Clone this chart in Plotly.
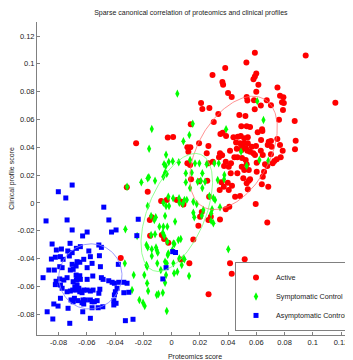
import numpy as np
import plotly.graph_objects as go

# ---------------- data ----------------
active_x = [0.059, 0.095, 0.116, 0.053, 0.038, 0.029, 0.060, 0.059, 0.058, 0.036, 0.0365, 0.0615, 0.075, 0.060,
            0.040, 0.0426, 0.0532, 0.0537, 0.0768, 0.0792, 0.0782, 0.0795, 0.0584, 0.0674, 0.0209, 0.0218, 0.0268,
            0.0632, 0.0704, 0.0589, 0.0789, 0.0331, 0.048, 0.0523, 0.0761, 0.0872, 0.0299, 0.0136, 0.0494, 0.0532,
            0.0556, 0.0641, 0.061, 0.0643, 0.0346, 0.0362, 0.0386, 0.0438, 0.0469, 0.049, 0.0515, 0.054, -0.0027,
            0.0011, 0.0749, 0.0879, 0.0874, 0.0634, 0.0688, 0.0704, 0.0681, 0.0709, 0.0768, 0.0787, 0.0773, 0.0598,
            0.0568, 0.0556, 0.0579, 0.0591, 0.0632, 0.0646, 0.0457, 0.0485, 0.0513, 0.054, 0.0499, 0.0527, -0.0251,
            0.0195, 0.0112, 0.0133, 0.0119, 0.0261, 0.0343, 0.0358, 0.0336, 0.0414, 0.0462, 0.0497, 0.0537, 0.0249,
            0.0445, 0.0466, 0.0499, 0.0525, 0.0704, 0.0745, 0.0728, 0.0716, 0.0662, 0.0678, 0.0603, 0.0261, 0.0292,
            0.0112, 0.0131, 0.0384, 0.0421, 0.0405, 0.0372, 0.0532, 0.0497, 0.0515, 0.0547, 0.0603, 0.0655, 0.0646,
            0.0419, 0.0466, 0.0508, 0.0547, 0.0532, 0.0556, 0.0639, 0.0685, 0.0353, 0.0398, 0.037, 0.0428, 0.0197,
            0.0253, 0.0138, -0.0317, -0.0169, 0.0341, 0.0405, 0.054, 0.045, 0.0485, 0.0266, -0.0074, -0.0034, 0.0037,
            0.0072, 0.0084, 0.0596, 0.0384, 0.0409, 0.0214, 0.0343, -0.014, -0.0154, 0.0202, 0.0261, 0.0278, 0.0678,
            0.019, -0.0152, -0.0069, -0.0053, 0.0154, -0.0023, -0.036, 0.0064, 0.0126, 0.0414, 0.0518, 0.0426, 0.0262]
active_y = [0.108, 0.106, 0.072, 0.101, 0.097, 0.092, 0.093, 0.091, 0.089, 0.087, 0.085, 0.085, 0.083, 0.080,
            0.079, 0.0762, 0.0762, 0.0736, 0.0771, 0.076, 0.0724, 0.0719, 0.0738, 0.0738, 0.0719, 0.0676, 0.0683,
            0.070, 0.0702, 0.0674, 0.0669, 0.064, 0.0633, 0.0626, 0.0599, 0.059, 0.0582, 0.0566, 0.0551, 0.0551,
            0.0546, 0.053, 0.0508, 0.0518, 0.0496, 0.0505, 0.0482, 0.0472, 0.0477, 0.0482, 0.0465, 0.0472, 0.047,
            0.0475, 0.046, 0.0448, 0.0386, 0.0453, 0.0441, 0.0446, 0.0417, 0.0405, 0.0417, 0.0376, 0.0329, 0.041,
            0.0405, 0.0369, 0.0357, 0.0345, 0.0376, 0.0345, 0.0434, 0.0429, 0.0429, 0.0429, 0.0405, 0.0393, 0.0429,
            0.0429, 0.040, 0.040, 0.0369, 0.041, 0.0357, 0.0343, 0.0329, 0.0376, 0.039, 0.0381, 0.0376, 0.0357,
            0.0329, 0.0329, 0.0324, 0.0309, 0.035, 0.0314, 0.0302, 0.0285, 0.0278, 0.0266, 0.029, 0.0285, 0.0297,
            0.0285, 0.0273, 0.0297, 0.0285, 0.0261, 0.0266, 0.0278, 0.0261, 0.0237, 0.0237, 0.0225, 0.0225, 0.0189,
            0.0214, 0.0214, 0.0178, 0.016, 0.0142, 0.017, 0.0134, 0.0117, 0.0149, 0.0146, 0.0117, 0.0124, 0.0156,
            0.016, 0.017, 0.0113, 0.0081, 0.0093, 0.0093, 0.0099, 0.0045, 0.005, 0.0045, 0.0014, 0.0022, 0.0022,
            0.0009, -0.0011, -0.0007, -0.0045, -0.0027, -0.0065, -0.0119, -0.0103, -0.0122, -0.0099, -0.0122, -0.0099, -0.014,
            -0.0163, -0.0235, -0.023, -0.0259, -0.0262, -0.0285, -0.0395, -0.0406, -0.0434, -0.0434, -0.0404, -0.0509, -0.0656]

symp_x = [0.0041, 0.0607, 0.015, 0.0651, 0.0386, -0.014, 0.0126, 0.0084, -0.0159, -0.0039, -0.002, 0.0008, 0.0051,
          -0.0053, -0.0041, -0.0046, -0.0034, -0.0058, -0.0117, 0.0131, 0.0166, 0.0197, 0.0249, 0.0303, 0.0334, 0.0622,
          0.0685, 0.0101, 0.0143, 0.0218, 0.0207, 0.0237, 0.0185, 0.0101, 0.0218, 0.0131, 0.0268, 0.0296, 0.0327,
          0.0374, 0.0372, -0.0023, 0.0011, 0.0053, -0.0058, -0.0039, -0.0018, 0.0055, 0.0079, 0.0108, 0.0091, 0.0308,
          0.0343, 0.0154, 0.0178, -0.0145, -0.0122, -0.0112, -0.0046, 0.0154, 0.0161, 0.0225, 0.0287, 0.028, -0.0086,
          -0.0058, -0.003, 0.0025, 0.028, 0.0296, 0.0214, -0.0214, -0.0169, -0.0161, -0.0315, -0.0169, -0.0327,
          -0.0145, -0.0117, -0.0062, -0.0051, -0.003, 0.0048, 0.0065, 0.002, -0.014, -0.0105, -0.0098, -0.014, -0.0027,
          -0.0046, -0.0034, 0.0013, 0.0055, 0.0084, 0.0091, 0.0072, -0.0101, -0.0076, 0.0018, 0.0041, -0.0039, 0.0124,
          -0.0046, 0.0402, -0.0105, -0.0093, -0.0062, -0.0034, -0.0244, -0.0178, -0.0169, -0.0331, -0.0268, -0.0193,
          -0.0173, -0.028, -0.0166, -0.0228, -0.0202, -0.019, -0.0178, -0.0173, 0.0006, -0.0023, 0.0013, -0.011,
          0.0492, 0.0532]
symp_y = [0.0786, 0.0732, 0.057, 0.0597, 0.053, 0.0532, 0.0489, 0.0444, 0.039, 0.0347, 0.0295, 0.030, 0.0293,
          0.0278, 0.0266, 0.0218, 0.0209, 0.0189, 0.016, 0.0309, 0.0285, 0.0285, 0.0278, 0.0285, 0.0285, 0.0309,
          0.0304, 0.0214, 0.0218, 0.0214, 0.016, 0.0153, 0.0153, 0.0149, 0.0108, 0.0108, 0.005, 0.0036, 0.0165,
          0.0201, 0.017, 0.0045, 0.0034, 0.0034, 0.0002, -0.0022, -0.0022, 0.0002, -0.0007, 0.0022, 0.0022, 0.0022,
          -0.0031, 0.0009, -0.0007, -0.0093, -0.0122, -0.0103, -0.0093, -0.007, -0.0103, -0.005, -0.0045, -0.0074, -0.017,
          -0.017, -0.017, -0.0134, -0.0127, -0.0146, -0.0091, 0.0149, 0.0178, 0.0185, 0.0117, -0.0022, -0.0189,
          -0.023, -0.0225, -0.0214, -0.0237, -0.0278, -0.0266, -0.0259, -0.0295, -0.0333, -0.0338, -0.0357, -0.0381, -0.0374,
          -0.0422, -0.0434, -0.0434, -0.0398, -0.0398, -0.0405, -0.0446, -0.0434, -0.0482, -0.0505, -0.0494, -0.0518, -0.0525,
          -0.0573, -0.0333, -0.0661, -0.0654, -0.0645, -0.0777, -0.0237, -0.0302, -0.0319, -0.0434, -0.0518, -0.0518,
          -0.0577, -0.0626, -0.0633, -0.0697, -0.0717, -0.0741, -0.0446, -0.0458, -0.0338, -0.0362, -0.029, -0.032,
          0.0369, 0.0268]

asym_x = [-0.0704, -0.0802, -0.0749, -0.048, -0.0889, -0.074, -0.0444, -0.0236, -0.0704, -0.0393, -0.0598, -0.0425,
          -0.0246, -0.063, -0.0846, -0.0816, -0.078, -0.0719, -0.0674, -0.0646, -0.0735, -0.0704, -0.0724, -0.0586,
          -0.0575, -0.0515, -0.0497, -0.0851, -0.0823, -0.0787, -0.0768, -0.0669, -0.065, -0.0676, -0.0704, -0.0622,
          -0.0511, -0.0563, -0.0598, -0.0504, -0.0377, -0.0792, -0.0775, -0.0869, -0.083, -0.0717, -0.0697, -0.091,
          -0.0792, -0.0763, -0.074, -0.0676, -0.065, -0.0669, -0.0646, -0.0558, -0.0497, -0.0485, -0.0818, -0.0823,
          -0.0787, -0.0697, -0.0674, -0.0598, -0.0445, -0.0421, -0.0374, -0.0405, -0.0338, -0.0315, -0.074, -0.0717,
          -0.070, -0.0669, -0.065, -0.0634, -0.0622, -0.0598, -0.0575, -0.0556, -0.0775, -0.0685, -0.0669, -0.0657,
          -0.0508, -0.0515, -0.0398, -0.0386, -0.0405, -0.0338, -0.0303, -0.0787, -0.0834, -0.0712, -0.0688, -0.0697,
          -0.0664, -0.0627, -0.061, -0.0575, -0.0563, -0.0547, -0.0527, -0.0634, -0.0622, -0.052, -0.0563, -0.0487,
          -0.0409, -0.0393, -0.0409, -0.0804, -0.0733, -0.0881, -0.0629, -0.0841, -0.0721, -0.0575, -0.0327, -0.0273,
          0.0008, 0.0028, -0.0039, -0.0062]
asym_y = [0.0129, 0.0081, 0.0036, -0.003, -0.0129, -0.0122, -0.0122, -0.0117, -0.0194, -0.0194, -0.0209, -0.0209,
          -0.0235, -0.0237, -0.0295, -0.0338, -0.0331, -0.029, -0.0326, -0.0314, -0.0345, -0.0357, -0.0381, -0.0345,
          -0.0386, -0.0302, -0.0319, -0.0403, -0.039, -0.0386, -0.0405, -0.0422, -0.0426, -0.0453, -0.0441, -0.0405,
          -0.0379, -0.0434, -0.0465, -0.0458, -0.0441, -0.0458, -0.0465, -0.0482, -0.0482, -0.0482, -0.0477, -0.0537,
          -0.0546, -0.0554, -0.0537, -0.0518, -0.0523, -0.0541, -0.0549, -0.0525, -0.0537, -0.0549, -0.0563, -0.0587,
          -0.059, -0.0566, -0.0554, -0.0549, -0.0559, -0.057, -0.057, -0.0577, -0.057, -0.0577, -0.0638, -0.0633,
          -0.0626, -0.0626, -0.0638, -0.0645, -0.0626, -0.0626, -0.0633, -0.0626, -0.0613, -0.0602, -0.059, -0.0613,
          -0.062, -0.0649, -0.0638, -0.0613, -0.0661, -0.0645, -0.0642, -0.0685, -0.0726, -0.0697, -0.0685, -0.071,
          -0.0702, -0.0697, -0.0697, -0.0697, -0.071, -0.071, -0.0702, -0.0717, -0.0726, -0.0753, -0.0753, -0.0746,
          -0.0702, -0.0721, -0.0733, -0.0741, -0.0757, -0.0782, -0.0782, -0.0834, -0.0865, -0.0829, -0.0846, -0.0836,
          -0.035, -0.0356, -0.0465, -0.0546]

group_names = ["Active", "Symptomatic Control", "Asymptomatic Control"]

# ellipse parameters: centre x, centre y, semi-major, semi-minor, angle (deg)
ell_cx = [0.0439, 0.0037, -0.0575]
ell_cy = [0.0360, -0.0068, -0.0528]
ell_a = [0.0444, 0.0450, 0.0235]
ell_b = [0.0255, 0.0204, 0.0223]
ell_ang = [61, 68, 75]

tick_vals = [-0.08, -0.06, -0.04, -0.02, 0, 0.02, 0.04, 0.06, 0.08, 0.1, 0.12]
tick_text = ["-0.08", "-0.06", "-0.04", "-0.02", "0", "0.02", "0.04", "0.06", "0.08", "0.1", "0.12"]

# ---------------- figure ----------------
FONT = "Liberation Sans, Arial, sans-serif"
fig = go.Figure()

fig.add_trace(go.Scatter(x=active_x, y=active_y, mode="markers", name=group_names[0],
                         marker=dict(symbol="circle", size=6, color="#ff0000")))
fig.add_trace(go.Scatter(x=symp_x, y=symp_y, mode="markers", name=group_names[1],
                         marker=dict(symbol="diamond-tall", size=6, color="#00ff00")))
fig.add_trace(go.Scatter(x=asym_x, y=asym_y, mode="markers", name=group_names[2],
                         marker=dict(symbol="square", size=5, color="#0000ff")))

ell_colors = ["rgba(255,110,110,0.75)", "rgba(120,255,120,0.8)", "rgba(130,130,255,0.8)"]
t = np.linspace(0, 2 * np.pi, 200)
for cx, cy, a, b, ang, col in zip(ell_cx, ell_cy, ell_a, ell_b, ell_ang, ell_colors):
    th = np.deg2rad(ang)
    ex = cx + a * np.cos(t) * np.cos(th) - b * np.sin(t) * np.sin(th)
    ey = cy + a * np.cos(t) * np.sin(th) + b * np.sin(t) * np.cos(th)
    fig.add_trace(go.Scatter(x=ex, y=ey, mode="lines", showlegend=False, hoverinfo="skip",
                             line=dict(color=col, width=1)))

axis_common = dict(
    tickvals=tick_vals, ticktext=tick_text, ticks="inside", ticklen=3, tickcolor="#808080",
    showline=True, linecolor="#808080", linewidth=1, showgrid=False, zeroline=False,
    tickfont=dict(family=FONT, size=7.5, color="#222"), automargin=False,
)

# the page body adds an 8 px offset, so the figure is sized to fit the window
fig.update_layout(
    width=345, height=352,
    margin=dict(l=29, r=0, t=14, b=25, autoexpand=False),
    paper_bgcolor="white", plot_bgcolor="white",
    font=dict(family=FONT, size=7, color="#222"),
    title=dict(text="Sparse canonical correlation of proteomics and clinical profiles",
               x=0.53, xanchor="center", y=0.988, yanchor="middle",
               font=dict(family=FONT, size=7, color="#222")),
    xaxis=dict(range=[-0.0953, 0.1285],
               title=dict(text="Proteomics score", standoff=9, font=dict(family=FONT, size=7)),
               **axis_common),
    yaxis=dict(range=[-0.0949, 0.1301],
               title=dict(text="Clinical profile score", standoff=1, font=dict(family=FONT, size=7)),
               **axis_common),
    legend=dict(x=1, xanchor="right", y=0.013, yanchor="bottom",
                bgcolor="white", bordercolor="#808080", borderwidth=1,
                font=dict(family=FONT, size=7.2, color="#222"), tracegroupgap=0),
    showlegend=True,
)

fig.write_html("out.html")
